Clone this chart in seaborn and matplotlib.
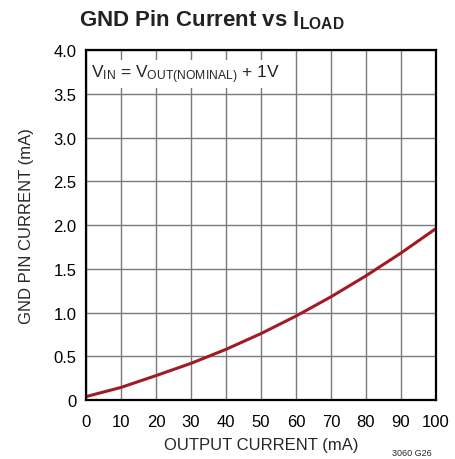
import seaborn as sns
import matplotlib.pyplot as plt
import pandas as pd

# values
load_ma = [0, 10, 20, 30, 40, 50, 60, 70, 80, 90, 100]
gnd_ma = [0.04, 0.145, 0.28, 0.42, 0.58, 0.76, 0.96, 1.18, 1.42, 1.68, 1.96]
x_ticks = [0, 10, 20, 30, 40, 50, 60, 70, 80, 90, 100]
y_ticks = [0, 0.5, 1.0, 1.5, 2.0, 2.5, 3.0, 3.5, 4.0]
y_labels = ['0', '0.5', '1.0', '1.5', '2.0', '2.5', '3.0', '3.5', '4.0']

df = pd.DataFrame({'load': load_ma, 'gnd': gnd_ma})

sns.set_style('white')
plt.rcParams['font.family'] = ['Liberation Sans', 'DejaVu Sans']
plt.rcParams['mathtext.default'] = 'regular'

fig = plt.figure(figsize=(4.55, 4.6), dpi=100)
ax = fig.add_axes([0.189, 0.128, 0.769, 0.761])

sns.lineplot(data=df, x='load', y='gnd', color='#a01c24', linewidth=2.2, ax=ax)

ax.set_xlim(0, 100)
ax.set_ylim(0, 4.0)
ax.set_xticks(x_ticks)
ax.set_yticks(y_ticks)
ax.set_yticklabels(y_labels)
ax.grid(True, color='#7a7a7a', linewidth=1.0)
ax.set_axisbelow(True)
for s in ax.spines.values():
    s.set_color('black')
    s.set_linewidth(1.6)
ax.tick_params(axis='x', labelsize=12, length=0, pad=10, colors='black')
ax.tick_params(axis='y', labelsize=12, length=0, pad=7, colors='black')

ax.set_xlabel('OUTPUT CURRENT (mA)', fontsize=12, labelpad=6)
ax.set_ylabel('GND PIN CURRENT (mA)', fontsize=12, labelpad=14)

ax.text(0.015, 0.965, r'V$_{IN}$ = V$_{OUT(NOMINAL)}$ + 1V', transform=ax.transAxes,
        fontsize=12.5, ha='left', va='top',
        bbox=dict(facecolor='white', edgecolor='none', pad=2))

fig.text(0.465, 0.955, r'GND Pin Current vs I$_{LOAD}$', fontsize=16,
         fontweight='bold', ha='center', va='center', color='#222222')
fig.text(0.905, 0.014, '3060 G26', fontsize=6.5, ha='center', va='center')

fig.savefig('out.png', dpi=100)
